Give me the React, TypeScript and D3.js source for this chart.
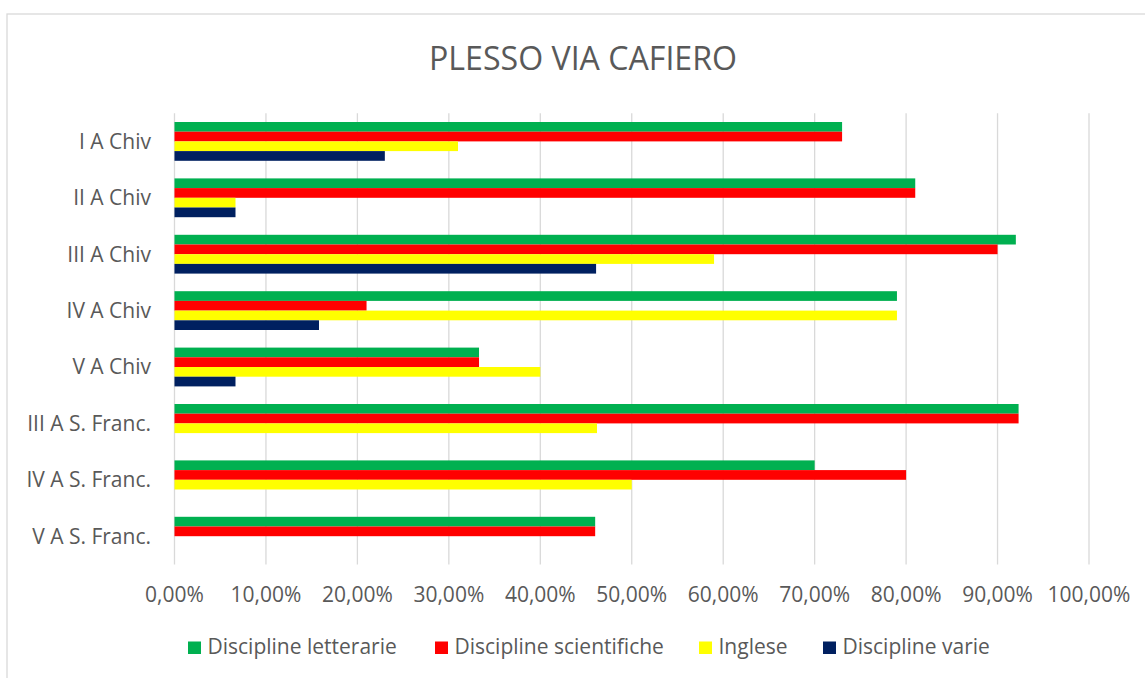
import React from "react";
import * as d3 from "d3";

const categories = [
  "I A Chiv",
  "II A Chiv",
  "III A Chiv",
  "IV A Chiv",
  "V A Chiv",
  "III A S. Franc.",
  "IV A S. Franc.",
  "V A S. Franc.",
];
const seriesNames = ["Discipline letterarie", "Discipline scientifiche", "Inglese", "Discipline varie"];
const seriesColors = ["#00B050", "#FF0000", "#FFFF00", "#002060"];
const letterarie = [0.73, 0.81, 0.92, 0.79, 0.333, 0.923, 0.7, 0.46];
const scientifiche = [0.73, 0.81, 0.9, 0.21, 0.333, 0.923, 0.8, 0.46];
const inglese = [0.31, 0.0667, 0.59, 0.79, 0.4, 0.462, 0.5, 0];
const varie = [0.23, 0.0667, 0.461, 0.158, 0.0667, 0, 0, 0];
const seriesValues = [letterarie, scientifiche, inglese, varie];
const xTicks = [0, 0.1, 0.2, 0.3, 0.4, 0.5, 0.6, 0.7, 0.8, 0.9, 1.0];
const legendX = [188, 435, 699, 823];

const FONT = "'Open Sans', 'Liberation Sans', sans-serif";
const TEXT = "#595959";
const GRID = "#d9d9d9";

export default function App() {
  const x = d3.scaleLinear().domain([0, 1]).range([174.5, 1089]);
  const y = d3.scaleBand<string>().domain(categories).range([113.2, 564.4]).padding(0);
  const inner = d3
    .scaleBand<number>()
    .domain(d3.range(seriesNames.length))
    .range([0, y.bandwidth()])
    .paddingInner(0)
    .paddingOuter(0.907);
  const fmt = (v: number) => (v * 100).toFixed(2).replace(".", ",") + "%";
  const [y0, y1] = y.range();

  return (
    <svg
      width={1145}
      height={678}
      style={{ position: "absolute", left: 0, top: 0, background: "#fff" }}
      fontFamily={FONT}
    >
      <rect x={0} y={0} width={1145} height={678} fill="#fff" />
      <rect x={7} y={14} width={1300} height={800} fill="#fff" stroke={GRID} strokeWidth={1.3} />
      <text
        x={583}
        y={69.5}
        textAnchor="middle"
        fontSize={32}
        fill={TEXT}
        textLength={308}
        lengthAdjust="spacingAndGlyphs"
      >
        PLESSO VIA CAFIERO
      </text>
      {xTicks.map((t) => (
        <line key={"g" + t} x1={x(t)} x2={x(t)} y1={y0} y2={y1} stroke={GRID} strokeWidth={1.3} />
      ))}
      {categories.map((c, ci) => (
        <g key={c} transform={`translate(0,${y(c)})`}>
          {seriesValues.map((vals, si) =>
            vals[ci] > 0 ? (
              <rect
                key={si}
                x={x(0)}
                y={inner(si)}
                width={x(vals[ci]) - x(0)}
                height={inner.bandwidth()}
                fill={seriesColors[si]}
              />
            ) : null
          )}
        </g>
      ))}
      {categories.map((c) => (
        <text
          key={"l" + c}
          x={151}
          y={(y(c) as number) + y.bandwidth() / 2}
          dy="0.35em"
          textAnchor="end"
          fontSize={21}
          fill={TEXT}
        >
          {c}
        </text>
      ))}
      {xTicks.map((t) => (
        <text key={"t" + t} x={x(t)} y={601.5} textAnchor="middle" fontSize={21} fill={TEXT}>
          {fmt(t)}
        </text>
      ))}
      {seriesNames.map((s, i) => (
        <g key={s}>
          <rect x={legendX[i]} y={641.5} width={13} height={12.5} fill={seriesColors[i]} />
          <text x={legendX[i] + 19.5} y={654} fontSize={21} fill={TEXT}>
            {s}
          </text>
        </g>
      ))}
    </svg>
  );
}
